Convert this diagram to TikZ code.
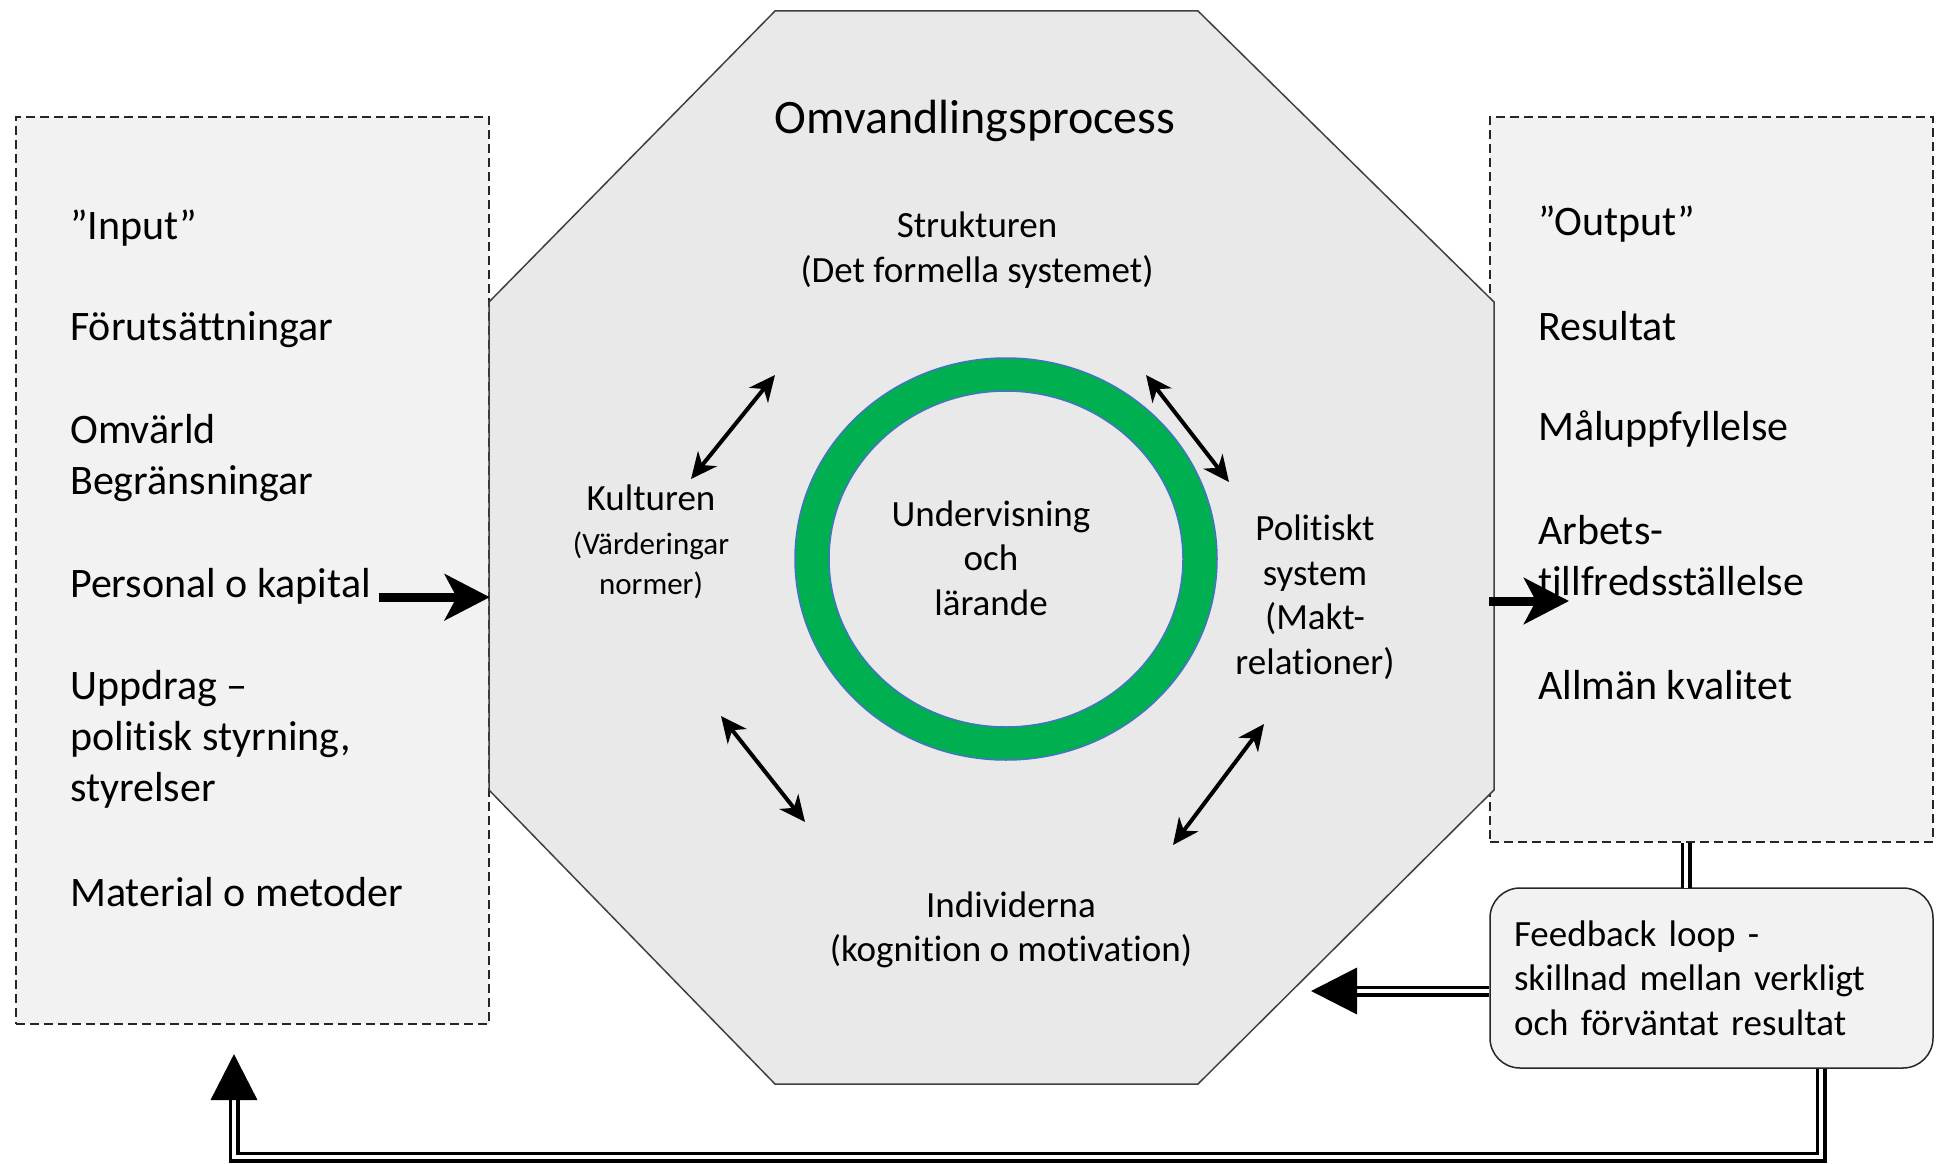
\documentclass[tikz,border=0pt]{standalone}
\usepackage{fontspec}
\setmainfont[Ligatures=NoCommon]{Carlito}
\usepackage{tikz}
\usetikzlibrary{arrows.meta,positioning,calc}
\definecolor{octgray}{RGB}{233,233,233}
\definecolor{boxgray}{RGB}{242,242,242}
\definecolor{ringgreen}{RGB}{0,176,80}
\definecolor{ringblue}{RGB}{68,114,196}
\tikzstyle{sidebox}=[draw=black!85,fill=boxgray,line width=1.5pt,dash pattern=on 9pt off 5pt,rectangle,inner sep=0pt]
\tikzstyle{sidetext}=[anchor=west,align=left,inner sep=0pt,font=\fontsize{42}{51}\selectfont]
\tikzstyle{octtext}=[align=center,inner sep=0pt,font=\fontsize{37}{44.5}\selectfont]
\tikzstyle{fbbox}=[draw=black!85,fill=boxgray,rounded corners=30pt,line width=1.5pt,minimum width=443pt,minimum height=180pt,text width=395pt,align=left,inner xsep=24pt,font=\fontsize{37}{44.5}\selectfont]
\tikzstyle{twoway}=[>={Stealth[length=26pt,width=24pt,inset=8pt]},<->,line width=4pt]
\tikzstyle{bigarrow}=[>={Stealth[length=45pt,width=46pt,inset=12pt]},->,line width=9pt]
\tikzstyle{fbline}=[double=white,double distance=4pt,line width=3.5pt]
\tikzstyle{fbarrow}=[fbline,>={Triangle[length=46pt,width=46pt]},->]

\begin{document}
\begin{tikzpicture}[x=1pt,y=-1pt]
\useasboundingbox (0,0) rectangle (1936,1164);
% side boxes
\draw (252.5,570.5) node [sidebox,minimum width=473pt,minimum height=907pt] (inbox) {};
\draw (1711.5,479.5) node [sidebox,minimum width=443pt,minimum height=725pt] (outbox) {};
% octagon
\draw[fill=octgray,draw=black!75,line width=1.5pt] (775,11) -- (1198,11) -- (1494,302) -- (1494,790) -- (1198,1084) -- (775,1084) -- (489,790) -- (489,302) -- cycle;
\draw[fill=ringgreen,draw=ringblue,line width=1.5pt,even odd rule] (1006,559) ellipse [x radius=211, y radius=201] (1006,559) ellipse [x radius=177, y radius=168];
% texts in the octagon
\draw (975,121) node [octtext,font=\fontsize{48}{58}\selectfont] (title) {Omvandlingsprocess};
\draw (977,250) node [octtext] (strukt) {Strukturen\\(Det formella systemet)};
\draw (651,498) node [octtext] (kult) {Kulturen};
\draw (651,565) node [octtext,font=\fontsize{31}{40}\selectfont] (kultsub) {(Värderingar\\normer)};
\draw (991,558) node [octtext] (und) {Undervisning\\och\\lärande};
\draw (1315,597) node [octtext] (pol) {Politiskt\\system\\(Makt-\\relationer)};
\draw (1011,930) node [octtext] (indiv) {Individerna\\(kognition o motivation)};
% input
\draw (70,228) node [sidetext] (inp) {”Input”};
\draw (70,330) node [sidetext] (forut) {Förutsättningar};
\draw (70,458) node [sidetext] (omv) {Omvärld\\Begränsningar};
\draw (70,586) node [sidetext] (pers) {Personal o kapital};
\draw (70,739) node [sidetext] (uppd) {Uppdrag –\\politisk styrning,\\styrelser};
\draw (70,892) node [sidetext] (mat) {Material o metoder};
% output
\draw (1538,224) node [sidetext] (outp) {”Output”};
\draw (1538,326) node [sidetext] (res) {Resultat};
\draw (1538,429) node [sidetext] (mal) {Måluppfyllelse};
\draw (1538,556) node [sidetext] (arb) {Arbets-\\tillfredsställelse};
\draw (1538,685) node [sidetext] (allm) {Allmän kvalitet};
% feedback
\draw (1711.5,978) node [fbbox] (fb) {Feedback loop -\\skillnad mellan verkligt\\och förväntat resultat};
% arrows
\coordinate (outtip) at (1569,601);
\draw[bigarrow,shorten <=8pt] (pers.base east) -- (pers.base east -| inbox.east);
\draw[bigarrow] (outbox.west |- outtip) -- (outtip);
\coordinate (k1) at (691,479); \coordinate (s1) at (775,375);
\coordinate (s2) at (1146,375); \coordinate (p1) at (1229,482);
\coordinate (k2) at (721,716); \coordinate (i1) at (805,822);
\coordinate (i2) at (1173,845); \coordinate (p2) at (1264,724);
\draw[twoway] (k1) -- (s1);
\draw[twoway] (s2) -- (p1);
\draw[twoway] (k2) -- (i1);
\draw[twoway] (i2) -- (p2);
% feedback loop
\coordinate (fbtop) at (1686,888);
\coordinate (fbtip) at (1311,991);
\coordinate (loopcorner) at (1821,1157);
\coordinate (looptip) at (234,1054);
\draw[fbline] (outbox.south -| fbtop) -- (fbtop);
\draw[fbarrow] (fb.west |- fbtip) -- (fbtip);
\draw[fbarrow] (fb.south -| loopcorner) -- (loopcorner) -| (looptip);
\end{tikzpicture}
\end{document}
